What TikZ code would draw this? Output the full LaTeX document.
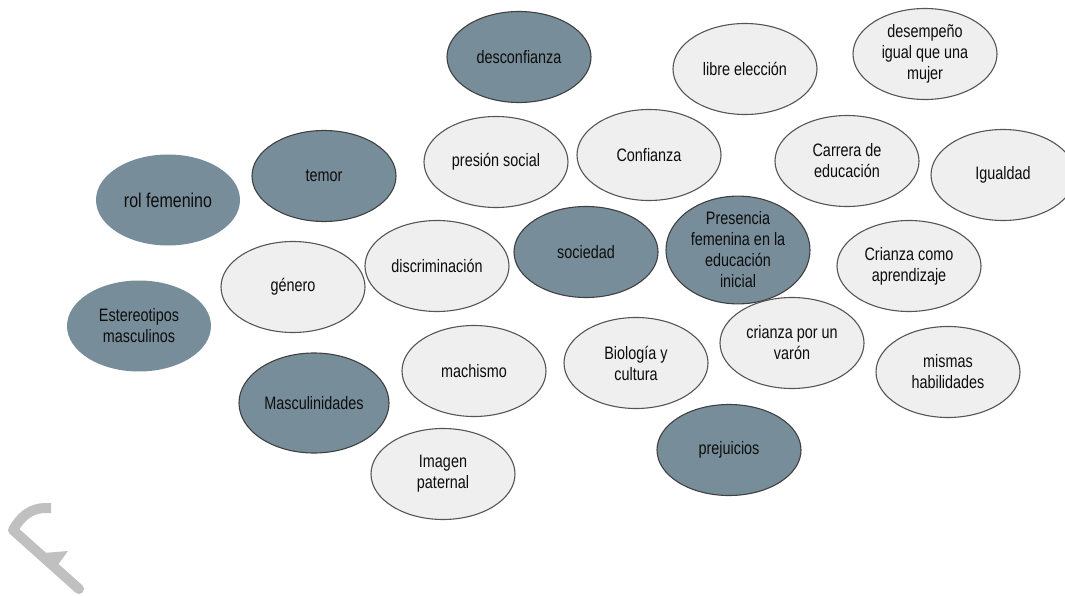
\documentclass[tikz,border=0pt]{standalone}
\usepackage{fontspec}
\setmainfont[FakeStretch=0.8]{Liberation Sans}
\usetikzlibrary{shapes.geometric}

\definecolor{slate}{RGB}{119,142,154}
\definecolor{pale}{RGB}{239,239,239}
\definecolor{rim}{RGB}{85,85,85}
\definecolor{logogray}{RGB}{192,192,192}

\newcommand{\DrawBubble}[5]{
    \node[#1] (#2) at (#3,#4) {#5};
}

\begin{document}
\begin{tikzpicture}[
  x=1pt, y=-1pt,
  bubble/.style={ellipse, minimum width=144pt, minimum height=91pt, inner sep=0pt,
    align=center, text=black!95, font=\fontsize{18}{21}\selectfont},
  dark/.style={bubble, fill=slate, draw=black!75, line width=1.1pt},
  bare/.style={bubble, fill=slate},
  light/.style={bubble, fill=pale, draw=rim, line width=1.1pt}
  ]
  \clip (0,0) rectangle (1065,596);
  % top row
  \DrawBubble{dark}{desconfianza}{519}{57}{desconfianza}
  \DrawBubble{light}{libre}{745}{69}{libre elección}
  \DrawBubble{light}{desempeno}{925}{54}{desempeño\\igual que una\\mujer}
  % second row
  \DrawBubble{bare}{rolfem}{168}{200}{\fontsize{20}{23}\selectfont rol femenino}
  \DrawBubble{dark}{temor}{324}{176}{temor}
  \DrawBubble{light}{presion}{496}{162}{presión social}
  \DrawBubble{light}{confianza}{649}{155}{Confianza}
  \DrawBubble{light}{carrera}{847}{161}{Carrera de\\educación}
  \DrawBubble{light}{igualdad}{1003}{175}{Igualdad}
  % third row
  \DrawBubble{light}{genero}{293}{287}{género}
  \DrawBubble{light}{discrim}{437}{266}{discriminación}
  \DrawBubble{dark}{sociedad}{586}{252}{sociedad}
  \DrawBubble{dark}{presencia}{738}{250}{Presencia\\femenina en la\\educación\\inicial}
  \DrawBubble{light}{crianza}{909}{266}{Crianza como\\aprendizaje}
  % fourth row
  \DrawBubble{bare}{estereo}{139}{326}{Estereotipos\\masculinos}
  \DrawBubble{light}{machismo}{474}{371}{machismo}
  \DrawBubble{light}{biologia}{636}{363}{Biología y\\cultura}
  \DrawBubble{light}{varon}{792}{343}{crianza por un\\varón}
  \DrawBubble{light}{mismas}{948}{372}{mismas\\habilidades}
  % bottom row
  \node[dark, minimum width=150pt, minimum height=100pt] (mascul) at (314,403) {Masculinidades};
  \DrawBubble{light}{imagen}{443}{474}{Imagen\\paternal}
  \DrawBubble{dark}{prejuicios}{729}{450}{prejuicios}
  % corner logo
  \draw[logogray, line width=10pt, line join=round]
    (51,508) -- (46,508) to[out=180, in=60] (13,530);
  \draw[logogray, line width=10pt, line cap=round, line join=round]
    (13,530) -- (79,589);
  \fill[logogray] (44,553) -- (68,551) -- (57,566) -- cycle;
\end{tikzpicture}
\end{document}
